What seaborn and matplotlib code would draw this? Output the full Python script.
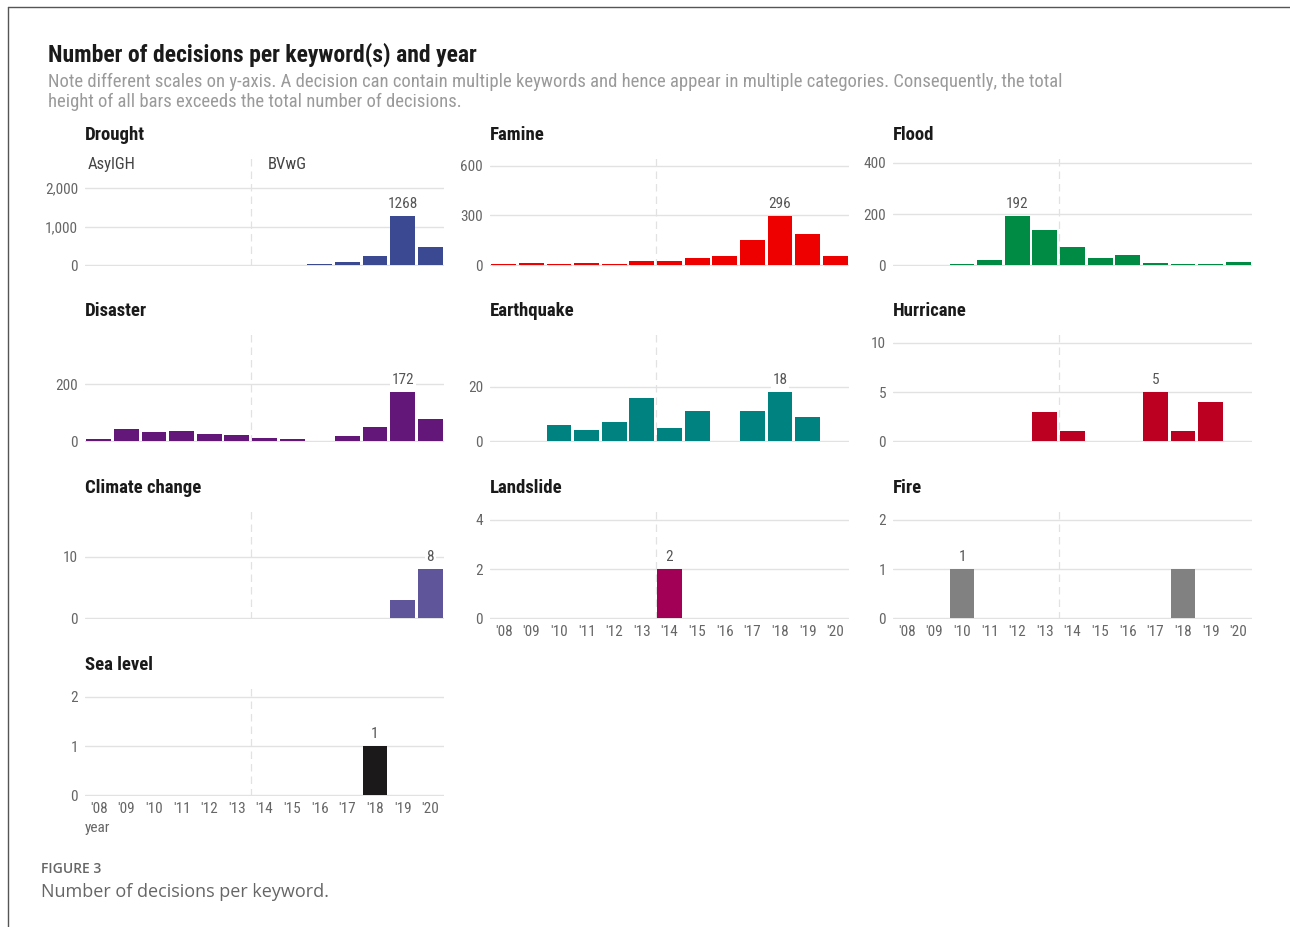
import matplotlib
matplotlib.use("Agg")
import matplotlib.pyplot as plt
import numpy as np
import pandas as pd
import seaborn as sns
from matplotlib import font_manager as fm
from matplotlib.lines import Line2D
from matplotlib.ticker import FuncFormatter

# ---- data -------------------------------------------------------------
years = list(range(2008, 2021))
year_labels = ["'08", "'09", "'10", "'11", "'12", "'13", "'14",
               "'15", "'16", "'17", "'18", "'19", "'20"]

keywords = ["Drought", "Famine", "Flood", "Disaster", "Earthquake",
            "Hurricane", "Climate change", "Landslide", "Fire", "Sea level"]

drought = [0, 0, 5, 0, 0, 5, 6, 7, 30, 85, 230, 1268, 460]
famine = [10, 16, 6, 12, 6, 28, 26, 42, 54, 154, 296, 190, 56]
flood = [0, 1, 4, 22, 192, 138, 73, 30, 39, 9, 6, 5, 12]
disaster = [8, 43, 31, 36, 24, 23, 11, 7, 2, 19, 49, 172, 78]
earthquake = [0, 0, 6, 4, 7, 16, 5, 11, 0, 11, 18, 9, 0]
hurricane = [0, 0, 0, 0, 0, 3, 1, 0, 0, 5, 1, 4, 0]
climate_change = [0, 0, 0, 0, 0, 0, 0, 0, 0, 0, 0, 3, 8]
landslide = [0, 0, 0, 0, 0, 0, 2, 0, 0, 0, 0, 0, 0]
fire = [0, 0, 1, 0, 0, 0, 0, 0, 0, 0, 1, 0, 0]
sea_level = [0, 0, 0, 0, 0, 0, 0, 0, 0, 0, 1, 0, 0]

series = [drought, famine, flood, disaster, earthquake,
          hurricane, climate_change, landslide, fire, sea_level]

y_ticks = [[0, 1000, 2000], [0, 300, 600], [0, 200, 400], [0, 200],
           [0, 20], [0, 5, 10], [0, 10], [0, 2, 4], [0, 1, 2], [0, 1, 2]]

colors = ["#3B4992", "#EE0000", "#008B45", "#631879", "#008280",
          "#BB0021", "#5F559B", "#A20056", "#808180", "#1B1919"]

court_labels = ["AsylGH", "BVwG"]

title = "Number of decisions per keyword(s) and year"
subtitle = ("Note different scales on y-axis. A decision can contain multiple keywords and hence "
            "appear in multiple categories. Consequently, the total\n"
            "height of all bars exceeds the total number of decisions.")

# ---- style ------------------------------------------------------------
sns.set_theme(style="white")
available = {f.name for f in fm.fontManager.ttflist}
cond = next((n for n in ["Roboto Condensed", "Liberation Sans Narrow", "Roboto"]
             if n in available), "DejaVu Sans")
caption_font = "Open Sans" if "Open Sans" in available else "DejaVu Sans"
plt.rcParams["font.family"] = [cond, "DejaVu Sans"]

W, H = 1290, 927
fig = plt.figure(figsize=(W / 100, H / 100), dpi=100)
fig.patch.set_facecolor("white")


def fx(px):
    return px / W


def fy(py):
    return 1 - py / H


col_left = [85, 490, 893]
panel_w = 359
zero_y = [266, 442, 619, 796]
panel_h = 109
grid_col = "#e2e2e2"
tick_col = "#666666"
tick_size = 11

for i, (kw, vals) in enumerate(zip(keywords, series)):
    r, c = divmod(i, 3)
    ax = fig.add_axes([fx(col_left[c]), fy(zero_y[r]), panel_w / W, panel_h / H])
    df = pd.DataFrame({"year": year_labels, "n": vals})
    sns.barplot(data=df, x="year", y="n", order=year_labels, color=colors[i],
                width=0.9, linewidth=0, saturation=1, errorbar=None, ax=ax)
    vmax = max(vals)
    top = vmax * 2.2
    ax.set_ylim(-top * 0.006, top)
    ax.set_xlim(-0.5, 12.5)
    ax.set_yticks(y_ticks[i])
    if kw == "Drought":
        ax.yaxis.set_major_formatter(FuncFormatter(lambda v, p: f"{int(v):,}"))
    ax.yaxis.grid(True, color=grid_col, lw=1.0)
    ax.xaxis.grid(False)
    ax.set_axisbelow(True)
    ax.axvline(5.5, color=grid_col, ls=(0, (6, 4)), lw=0.9, zorder=0)
    for s in ax.spines.values():
        s.set_visible(False)
    ax.tick_params(axis="y", length=0, labelsize=tick_size, labelcolor=tick_col, pad=5)
    ax.tick_params(axis="x", length=0, labelsize=tick_size, labelcolor=tick_col, pad=4)
    ax.set_xlabel("")
    ax.set_ylabel("")
    if i not in (7, 8, 9):
        ax.set_xticklabels([])
    ax.patch.set_alpha(0)

    # label the tallest bar with its value
    k = int(np.argmax(vals))
    ax.annotate(str(vmax), (k, vmax), xytext=(0, 3.5), textcoords="offset points",
                ha="center", va="bottom", fontsize=tick_size, color="#555555",
                bbox=dict(facecolor="white", edgecolor="none", pad=1.2))

    fig.text(fx(col_left[c]), fy(zero_y[r] - panel_h - 22), kw,
             fontsize=13.5, fontweight="bold", color="#1a1a1a",
             ha="left", va="center")

    if kw == "Drought":
        ax.text(3 / panel_w, 0.927, court_labels[0], transform=ax.transAxes,
                fontsize=12, color="#444444", ha="left", va="center")
        ax.text(183 / panel_w, 0.927, court_labels[1], transform=ax.transAxes,
                fontsize=12, color="#444444", ha="left", va="center")

fig.text(fx(85), fy(828), "year", fontsize=tick_size, color=tick_col,
         ha="left", va="center")

fig.text(fx(48), fy(55), title, fontsize=17, fontweight="bold",
         color="#1a1a1a", ha="left", va="center")
fig.text(fx(48), fy(92), subtitle, fontsize=13.4, color="#9a9a9a",
         ha="left", va="center", linespacing=1.1)

fig.text(fx(41), fy(869), "FIGURE 3", fontsize=10, fontweight="semibold",
         color="#666666", ha="left", va="center", family=caption_font)
fig.text(fx(41), fy(892), "Number of decisions per keyword.", fontsize=13,
         color="#666666", ha="left", va="center", family=caption_font)

# frame lines along the top and left edge
fig.add_artist(Line2D([fx(8), 1], [fy(7), fy(7)], transform=fig.transFigure,
                      color="#555555", lw=1.0))
fig.add_artist(Line2D([fx(8), fx(8)], [fy(7), 0], transform=fig.transFigure,
                      color="#555555", lw=1.0))

fig.savefig("out.png", dpi=100, facecolor="white")
